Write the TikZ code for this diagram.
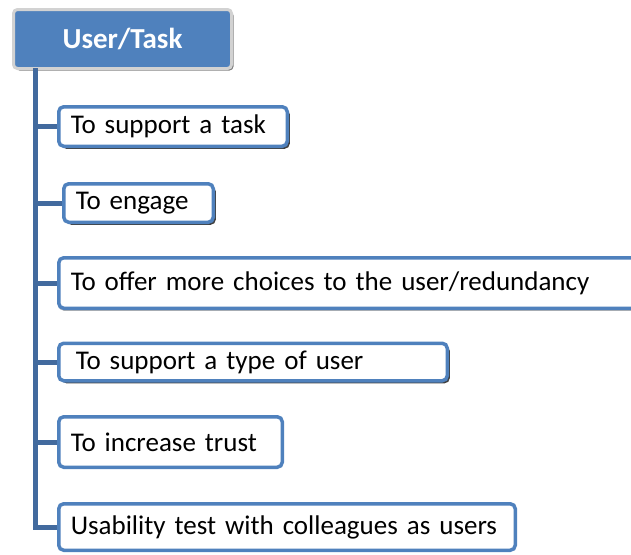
\documentclass[tikz,border=0pt]{standalone}
\usepackage{fontspec}
\setmainfont{Carlito}
\usetikzlibrary{positioning, shadows}
\definecolor{taskblue}{RGB}{79,129,189}
\definecolor{spineblue}{RGB}{66,106,158}

\begin{document}
\begin{tikzpicture}[x=1pt, y=1pt,
    item/.style={draw=taskblue, line width=3.5pt, fill=white, rounded corners=5pt,
        anchor=west, align=left, inner xsep=12pt, inner ysep=0pt,
        font=\fontsize{27}{31}\selectfont},
    raised/.style={item, drop shadow={shadow xshift=2.5pt, shadow yshift=-2.5pt,
        fill=black, opacity=.75}},
    head/.style={draw=gray!35, line width=3pt, fill=taskblue, rounded corners=4pt,
        text=white, font=\fontsize{29}{33}\selectfont\bfseries,
        minimum width=218pt, minimum height=59pt,
        drop shadow={shadow xshift=2pt, shadow yshift=-2pt, fill=black, opacity=.5}},
    link/.style={draw=spineblue, line width=5pt}]
    \useasboundingbox (0,0) rectangle (631,-554);

    \draw node[head] (ut) at (122.5,-39) {User/Task};
    \coordinate (root) at (35,-68);

    \draw node[raised, text width=204.5pt, minimum height=39.5pt] (sup) at (57,-126.5) {To support a task};
    \draw node[raised, text width=125.5pt, minimum height=38.5pt] (eng) at (62,-203) {To engage};
    \draw node[item, text width=572pt, minimum height=50.5pt,
        drop shadow={shadow xshift=0pt, shadow yshift=-2.5pt, fill=gray, opacity=.6}] (off) at (57,-283) {To offer more choices to the user/redundancy};
    \draw node[raised, inner xsep=17pt, text width=354.5pt, minimum height=37.5pt] (typ) at (57,-362) {To support a type of user};
    \draw node[item, text width=199.5pt, minimum height=50.5pt] (tru) at (57,-442) {To increase trust};
    \draw node[item, text width=432.5pt, minimum height=46.5pt] (usa) at (57,-527) {Usability test with colleagues as users};

    \draw[link] (root) |- (sup.west);
    \draw[link] (root) |- (eng.west);
    \draw[link] (root) |- (off.west);
    \draw[link] (root) |- (typ.west);
    \draw[link] (root) |- (tru.west);
    \draw[link] (root) |- (usa.west);
\end{tikzpicture}
\end{document}
